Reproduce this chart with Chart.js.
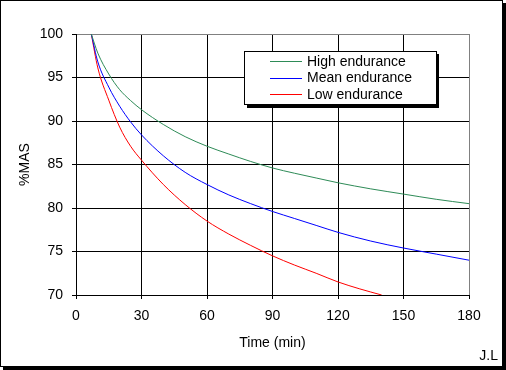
<!DOCTYPE html>
<html>
<head>
<meta charset="utf-8">
<script src="https://cdn.jsdelivr.net/npm/chart.js@4"></script>
<style>
    body { margin: 0; background: #fff; }
    #wrap { width: 506px; height: 370px; }
</style>
</head>
<body>
<div id="wrap"><canvas id="enduranceChart" width="506" height="370"></canvas></div>
<script>
const seriesLabels = ['High endurance', 'Mean endurance', 'Low endurance'];
const seriesColors = ['#2e8b57', '#0000ff', '#ff0000'];

// time in minutes
const times = [7, 10, 15, 20, 25, 30, 40, 50, 60, 70, 80, 90, 100, 110, 120, 135, 150, 165, 180];
const highValues = [100, 97.8, 95.4, 93.6, 92.35, 91.3, 89.6, 88.2, 87.1, 86.2, 85.35, 84.6, 84.0, 83.45, 82.9, 82.2, 81.6, 81.0, 80.5];
const meanValues = [100, 96.8, 93.9, 91.7, 89.9, 88.4, 86.0, 84.1, 82.7, 81.5, 80.5, 79.6, 78.8, 78.0, 77.2, 76.2, 75.4, 74.7, 74.0];

// low endurance goes off the bottom of the chart, so it has its own times
const lowTimes = [7, 10, 15, 20, 25, 30, 40, 50, 60, 70, 80, 90, 100, 110, 120, 130, 140];
const lowValues = [100, 96.1, 92.4, 89.3, 87.1, 85.5, 82.7, 80.4, 78.5, 77.0, 75.7, 74.5, 73.45, 72.5, 71.5, 70.7, 70.0];

const xTicks = [0, 30, 60, 90, 120, 150, 180];
const yTicks = [70, 75, 80, 85, 90, 95, 100];

const fontFamily = "'Liberation Sans', Arial, sans-serif";

function toPoints(xs, ys) {
    return xs.map((x, i) => ({ x: x, y: ys[i] }));
}

// white sheet with black border and drop shadow
const framePlugin = {
    id: 'frame',
    beforeDraw(chart) {
        const ctx = chart.ctx;
        ctx.save();
        ctx.fillStyle = '#000';
        ctx.fillRect(3, 3, 503, 367);
        ctx.fillRect(0, 0, 503, 367);
        ctx.fillStyle = '#fff';
        ctx.fillRect(1, 1, 501, 365);
        ctx.restore();
    }
};

// boxed legend inside the plot + the "J.L" signature
const legendBoxPlugin = {
    id: 'legendBox',
    afterDraw(chart) {
        const ctx = chart.ctx;
        ctx.save();
        ctx.fillStyle = '#000';
        ctx.fillRect(247, 54, 192, 54);
        ctx.fillStyle = '#fff';
        ctx.fillRect(244, 51, 193, 54);
        ctx.strokeStyle = '#000';
        ctx.lineWidth = 1;
        ctx.strokeRect(244.5, 51.5, 192, 53);

        ctx.font = '14px ' + fontFamily;
        ctx.textBaseline = 'middle';
        ctx.textAlign = 'left';
        chart.data.datasets.forEach((ds, i) => {
            const y = 61 + i * 16.5;
            const yy = Math.round(y) + 0.5;
            ctx.strokeStyle = ds.borderColor;
            ctx.beginPath();
            ctx.moveTo(270, yy);
            ctx.lineTo(302, yy);
            ctx.stroke();
            ctx.fillStyle = '#000';
            ctx.fillText(ds.label, 307, y + 1);
        });

        ctx.textAlign = 'right';
        ctx.fillText('J.L', 498, 356);
        ctx.restore();
    }
};

const ctx = document.getElementById('enduranceChart').getContext('2d');

new Chart(ctx, {
    type: 'line',
    data: {
        datasets: [
            { label: seriesLabels[0], data: toPoints(times, highValues), borderColor: seriesColors[0] },
            { label: seriesLabels[1], data: toPoints(times, meanValues), borderColor: seriesColors[1] },
            { label: seriesLabels[2], data: toPoints(lowTimes, lowValues), borderColor: seriesColors[2] }
        ].map(ds => Object.assign(ds, {
            borderWidth: 1,
            pointRadius: 0,
            fill: false,
            cubicInterpolationMode: 'monotone'
        }))
    },
    options: {
        responsive: false,
        animation: false,
        devicePixelRatio: 1,
        layout: {
            padding: { top: 34, right: 37, left: 0, bottom: 0 }
        },
        plugins: {
            legend: { display: false },
            tooltip: { enabled: false }
        },
        scales: {
            x: {
                type: 'linear',
                min: 0,
                max: 180,
                afterBuildTicks: scale => { scale.ticks = xTicks.map(v => ({ value: v })); },
                afterFit: scale => { scale.height = 75; },
                ticks: {
                    color: '#000',
                    padding: 9,
                    maxRotation: 0,
                    font: { family: fontFamily, size: 14 }
                },
                grid: {
                    color: c => c.tick && c.tick.value === 180 ? '#808080' : '#000',
                    tickColor: '#000',
                    tickLength: 4,
                    lineWidth: 1
                },
                border: { color: '#000' },
                title: {
                    display: true,
                    text: 'Time (min)',
                    color: '#000',
                    font: { family: fontFamily, size: 14 },
                    padding: { top: 0, bottom: 18 }
                }
            },
            y: {
                min: 70,
                max: 100,
                afterBuildTicks: scale => { scale.ticks = yTicks.map(v => ({ value: v })); },
                afterFit: scale => { scale.width = 76; },
                ticks: {
                    color: '#000',
                    padding: 9,
                    font: { family: fontFamily, size: 14 }
                },
                grid: {
                    color: c => c.tick && c.tick.value === 100 ? '#808080' : '#000',
                    tickColor: '#000',
                    tickLength: 4,
                    lineWidth: 1
                },
                border: { color: '#000' },
                title: {
                    display: true,
                    text: '%MAS',
                    color: '#000',
                    font: { family: fontFamily, size: 14 },
                    padding: { top: 17, bottom: 0 }
                }
            }
        }
    },
    plugins: [framePlugin, legendBoxPlugin]
});
</script>
</body>
</html>
